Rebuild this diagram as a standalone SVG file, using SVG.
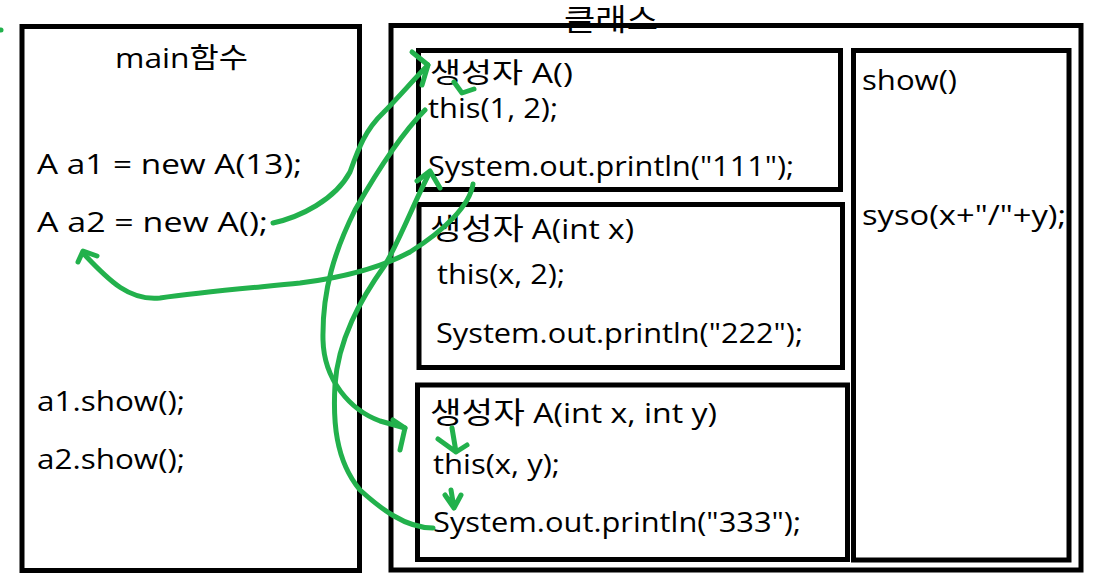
<svg xmlns="http://www.w3.org/2000/svg" width="1096" height="586" viewBox="0 0 1096 586">
<style>
.box{fill:none;stroke:#000;stroke-width:5}
.t{font-family:"Open Sans","Noto Sans CJK KR",sans-serif;font-size:28px;fill:#000}
.k{font-size:30px}
.g{fill:none;stroke:#22b14c;stroke-width:5;stroke-linecap:round;stroke-linejoin:round}
</style>
<rect width="1096" height="586" fill="#fff"/>
<g id="main">
<rect class="box" x="22" y="26.5" width="337.5" height="544"/>
<text class="t" x="115" y="68" textLength="133" lengthAdjust="spacingAndGlyphs">main함수</text>
<text class="t" x="37" y="174" textLength="265" lengthAdjust="spacingAndGlyphs">A a1 = new A(13);</text>
<text class="t" x="37" y="232" textLength="231" lengthAdjust="spacingAndGlyphs">A a2 = new A();</text>
<text class="t" x="37" y="411" textLength="148" lengthAdjust="spacingAndGlyphs">a1.show();</text>
<text class="t" x="37" y="469" textLength="148" lengthAdjust="spacingAndGlyphs">a2.show();</text>
</g>
<g id="class">
<rect class="box" x="391" y="25.5" width="690" height="544.5"/>
<text class="t k" x="564" y="30" font-size="32" textLength="94" lengthAdjust="spacingAndGlyphs">클래스</text>
</g>
<g id="ctor0">
<rect class="box" x="418.5" y="50.5" width="422" height="139"/>
<text class="t" x="430" y="83" textLength="143" lengthAdjust="spacingAndGlyphs">생성자 A()</text>
<text class="t" x="428" y="118" textLength="130" lengthAdjust="spacingAndGlyphs">this(1, 2);</text>
<text class="t" x="428" y="176" textLength="366" lengthAdjust="spacingAndGlyphs">System.out.println("111");</text>
</g>
<g id="ctor1">
<rect class="box" x="419" y="204.5" width="423.5" height="163"/>
<text class="t" x="430" y="239" textLength="204" lengthAdjust="spacingAndGlyphs"><tspan class="k">생성자</tspan> A(int x)</text>
<text class="t" x="437" y="284" textLength="128" lengthAdjust="spacingAndGlyphs">this(x, 2);</text>
<text class="t" x="436" y="343" textLength="367" lengthAdjust="spacingAndGlyphs">System.out.println("222");</text>
</g>
<g id="ctor2">
<rect class="box" x="417.5" y="385" width="430" height="174.5"/>
<text class="t" x="430" y="423" textLength="287" lengthAdjust="spacingAndGlyphs"><tspan class="k">생성자</tspan> A(int x, int y)</text>
<text class="t" x="433" y="474" textLength="127" lengthAdjust="spacingAndGlyphs">this(x, y);</text>
<text class="t" x="433" y="532" textLength="368" lengthAdjust="spacingAndGlyphs">System.out.println("333");</text>
</g>
<g id="show">
<rect class="box" x="853.5" y="50.5" width="215.5" height="509.5"/>
<text class="t" x="862" y="90" textLength="95" lengthAdjust="spacingAndGlyphs">show()</text>
<text class="t" x="862" y="225" textLength="204" lengthAdjust="spacingAndGlyphs">syso(x+"/"+y);</text>
</g>
<g id="connectors">
<path class="g" d="M273,223 C300,217 335,200 350,172 C358,150 365,130 383,113 C398,98 415,78 428,65"/>
<path class="g" d="M412,52 L428,65 L422,85"/>
<path class="g" d="M454,82 L462,93 L474,89"/>
<path class="g" d="M425,110 C400,135 375,175 355,210 C335,250 322,290 323,340 C324,380 350,410 380,421 L405,428"/>
<path class="g" d="M393,420 L405,428 L400,450"/>
<path class="g" d="M433,528 C405,528 380,508 360,490 C335,460 333,420 335,385 C338,340 360,300 385,265 C400,240 415,200 430,172"/>
<path class="g" d="M417,181 L430,171 L440,188"/>
<path class="g" d="M473,184 C470,205 445,230 410,252 C380,268 340,278 300,283 C250,288 200,292 160,298 C130,301 110,282 83,253"/>
<path class="g" d="M78,262 L83,251 L97,256"/>
<path class="g" d="M452,428 L456,452 M438,439 L456,452 L467,445"/>
<path class="g" d="M451,490 L454,508 M445,495 L454,508 L461,495"/>
<path class="g" d="M0,30 L1,30"/>
</g>
</svg>
